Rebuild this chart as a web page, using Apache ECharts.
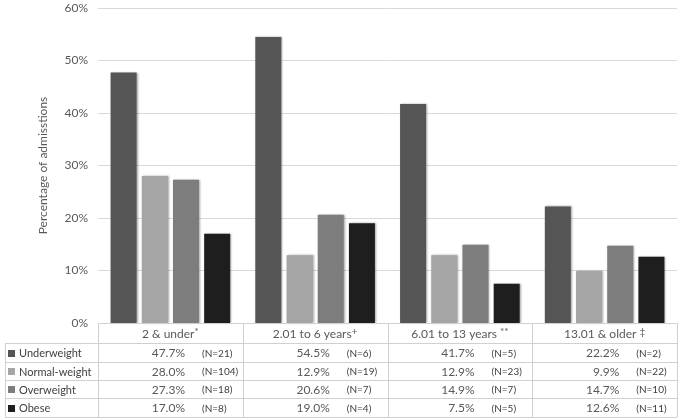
<!DOCTYPE html>
<html>
<head>
<meta charset="utf-8">
<script src="https://cdn.jsdelivr.net/npm/echarts@6/dist/echarts.min.js"></script>
<style>
html,body{margin:0;padding:0;background:#fff;}
#chart{width:680px;height:419px;}
</style>
</head>
<body>
<div id="chart"></div>
<script>
var categories = ['2 & under', '2.01 to 6 years', '6.01 to 13 years', '13.01 & older'];
var marks = ['*', '+', '**', '\u2021'];
var markSpace = ['', '', ' ', ' '];
var seriesNames = ['Underweight', 'Normal-weight', 'Overweight', 'Obese'];
var underweight = [47.7, 54.5, 41.7, 22.2];
var normalWeight = [28.0, 12.9, 12.9, 9.9];
var overweight = [27.3, 20.6, 14.9, 14.7];
var obese = [17.0, 19.0, 7.5, 12.6];
var nUnderweight = [21, 6, 5, 2];
var nNormalWeight = [104, 19, 23, 22];
var nOverweight = [18, 7, 7, 10];
var nObese = [8, 4, 5, 11];
var yTicks = [0, 10, 20, 30, 40, 50, 60];

var colors = ['#555555', '#a5a5a5', '#7d7d7d', '#1e1e1e'];
var values = [underweight, normalWeight, overweight, obese];
var counts = [nUnderweight, nNormalWeight, nOverweight, nObese];

var FONT = 'Lato, "Open Sans", sans-serif';
var gridLeft = 98, gridRight = 3, gridTop = 8, gridBottom = 96;
var W = 680, H = 419;
var plotW = W - gridLeft - gridRight;
var colW = plotW / categories.length;
var axisY = H - gridBottom;
var rowTops = [axisY, 343, 362, 380, 398, 417];
var tableLeft = 5;
var lineColor = '#d0d0d0';
var textColor = '#595959';

var chart = echarts.init(document.getElementById('chart'), null, {renderer: 'canvas'});

var graphics = [];
graphics.push({type: 'line', shape: {x1: gridLeft, y1: rowTops[0] + 0.5, x2: W - gridRight, y2: rowTops[0] + 0.5}, style: {stroke: lineColor, lineWidth: 1}, z: 10});
for (var r = 1; r < rowTops.length; r++) {
  graphics.push({type: 'line', shape: {x1: tableLeft, y1: rowTops[r] + 0.5, x2: W - gridRight, y2: rowTops[r] + 0.5}, style: {stroke: lineColor, lineWidth: 1}, z: 10});
}
graphics.push({type: 'line', shape: {x1: tableLeft + 0.5, y1: rowTops[1], x2: tableLeft + 0.5, y2: rowTops[5]}, style: {stroke: lineColor, lineWidth: 1}, z: 10});
for (var c = 0; c <= categories.length; c++) {
  var x = Math.round(gridLeft + c * colW) + 0.5;
  graphics.push({type: 'line', shape: {x1: x, y1: rowTops[0], x2: x, y2: rowTops[5]}, style: {stroke: lineColor, lineWidth: 1}, z: 10});
}
for (var c = 0; c < categories.length; c++) {
  var cx = gridLeft + (c + 0.5) * colW;
  graphics.push({
    type: 'text', x: cx, y: (rowTops[0] + rowTops[1]) / 2 + 1,
    style: {
      text: '{a|' + categories[c] + markSpace[c] + '}{s|' + marks[c] + '}',
      align: 'center', verticalAlign: 'middle',
      rich: {
        a: {fontFamily: FONT, fontSize: 12, fill: textColor},
        s: {fontFamily: FONT, fontSize: 10, fill: textColor, verticalAlign: 'top', padding: [0, 0, 5, 0]}
      }
    }, z: 11
  });
}
for (var s = 0; s < seriesNames.length; s++) {
  var cy = (rowTops[s + 1] + rowTops[s + 2]) / 2 + 1;
  graphics.push({type: 'rect', shape: {x: 8, y: Math.round(cy) - 4, width: 7, height: 7}, style: {fill: colors[s]}, z: 11});
  graphics.push({type: 'text', x: 19, y: cy, style: {text: seriesNames[s], fontFamily: FONT, fontSize: 11, fill: '#404040', align: 'left', verticalAlign: 'middle'}, z: 11});
  for (var c = 0; c < categories.length; c++) {
    var colLeft = gridLeft + c * colW;
    graphics.push({type: 'text', x: colLeft + 87, y: cy, style: {text: values[s][c].toFixed(1) + '%', fontFamily: FONT, fontSize: 12, fill: textColor, align: 'right', verticalAlign: 'middle'}, z: 11});
    graphics.push({type: 'text', x: colLeft + 104, y: cy, style: {text: '(N=' + counts[s][c] + ')', fontFamily: FONT, fontSize: 10, fill: '#404040', align: 'left', verticalAlign: 'middle'}, z: 11});
  }
}

var series = seriesNames.map(function (name, i) {
  return {
    name: name, type: 'bar', data: values[i],
    barWidth: 26, barGap: '20%',
    itemStyle: {color: colors[i], shadowColor: 'rgba(0,0,0,0.35)', shadowBlur: 2, shadowOffsetX: 1, shadowOffsetY: 0},
    emphasis: {disabled: true}
  };
});

chart.setOption({
  animation: false,
  backgroundColor: '#ffffff',
  grid: {left: gridLeft, right: gridRight, top: gridTop, bottom: gridBottom},
  xAxis: {
    type: 'category', data: categories,
    axisLine: {show: false}, axisTick: {show: false}, axisLabel: {show: false}
  },
  yAxis: {
    type: 'value', min: yTicks[0], max: yTicks[yTicks.length - 1], interval: 10,
    name: 'Percentage of admisstions', nameLocation: 'middle', nameGap: 49,
    nameTextStyle: {fontFamily: FONT, fontSize: 12, color: textColor},
    axisLine: {show: false}, axisTick: {show: false},
    axisLabel: {formatter: '{value}%', fontFamily: FONT, fontSize: 12, color: textColor, margin: 10},
    splitLine: {lineStyle: {color: '#d9d9d9', width: 1}}
  },
  series: series,
  graphic: graphics
});
</script>
</body>
</html>
